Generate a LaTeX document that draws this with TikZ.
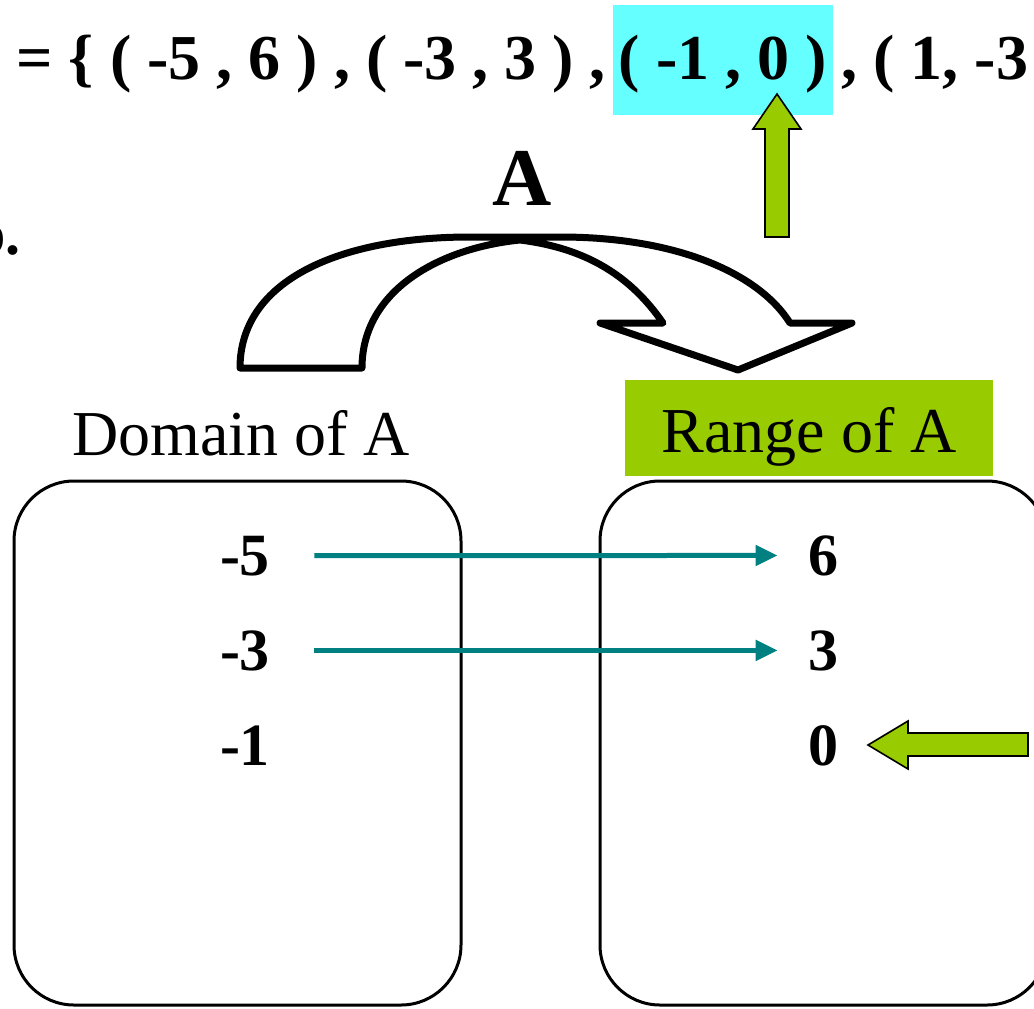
\documentclass[tikz,border=0pt]{standalone}
\usepackage{fontspec}
\setmainfont{Liberation Serif}
\usetikzlibrary{arrows.meta,positioning,calc}
\definecolor{mapTeal}{HTML}{008080}
\definecolor{mapGreen}{HTML}{99CC00}
\definecolor{mapCyan}{HTML}{66FFFF}
\tikzset{
  setbox/.style={draw, line width=1.5pt, rounded corners=30pt,
                 minimum width=223.5pt, minimum height=262pt},
  numlbl/.style={font=\fontsize{30}{36}\selectfont\bfseries, inner sep=0pt},
  setlbl/.style={font=\fontsize{32}{38}\selectfont, inner sep=0pt},
  pairtxt/.style={font=\fontsize{32}{38}\selectfont\bfseries, inner sep=0pt},
  maparr/.style={-{Triangle[length=11pt,width=10pt]}, line width=2.5pt, draw=mapTeal,
                 shorten <=22pt, shorten >=15pt},
  greenarr/.style={fill=mapGreen, draw=black, line width=0.8pt, line join=miter},
  bendarr/.style={draw=black, line width=3.5pt, line join=round, line cap=round},
}

\begin{document}
\begin{tikzpicture}[x=0.5pt, y=-0.5pt]
  \useasboundingbox (0,0) rectangle (1034,1008);
  \clip (0,0) rectangle (1034,1008);
  % the set of pairs
  \node[pairtxt, anchor=base west] (setL) at (16,79) {= \{ ( -5 , 6 ) , ( -3 , 3 ) ,};
  \node[pairtxt, base right=3pt of setL, fill=mapCyan, inner xsep=3pt,
        text height=37pt, text depth=18pt] (pairC) {( -1 , 0 )};
  \node[pairtxt, base right=4pt of pairC] (setR) {, ( 1, -3};
  \node[font=\fontsize{30}{36}\selectfont\bfseries, anchor=base east] (partLbl) at (28,254) {b.};
  \node[font=\fontsize{41}{48}\selectfont\bfseries, anchor=base] (mapName) at (522,205) {A};
  % bent arrow
  \draw[bendarr] (240,368) .. controls (240,280) and (340,237) .. (470,237) -- (560,237)
    .. controls (680,237) and (760,275) .. (790,323) -- (852,323) -- (738,370) -- (600,323)
    -- (663,323) .. controls (630,275) and (585,248) .. (520,240)
    .. controls (440,248) and (362,290) .. (362,368) -- cycle;
  % domain and range
  \node[setlbl, anchor=base] (domLbl) at (241,455) {Domain of A};
  \node[setlbl, fill=mapGreen, minimum width=184pt, minimum height=48pt,
        text height=24.5pt, text depth=0.5pt] (ranLbl) at (809,428) {Range of A};
  \node[setbox] (domBox) at (237.5,743) {};
  \node[setbox] (ranBox) at (823.5,743) {};
  \node[numlbl, anchor=base] (d5) at (245,575) {-5};
  \node[numlbl, anchor=base] (d3) at (245,670) {-3};
  \node[numlbl, anchor=base] (d1) at (245,765) {-1};
  \node[numlbl, anchor=base] (r6) at (823,575) {6};
  \node[numlbl, anchor=base] (r3) at (823,670) {3};
  \node[numlbl, anchor=base] (r0) at (823,765) {0};
  \draw[maparr] (d5) -- (r6);
  \draw[maparr] (d3) -- (r3);
  % green pointers
  \draw[greenarr] (765,237) -- (765,129) -- (753,129) -- (777,94) -- (801,129)
    -- (789,129) -- (789,237) -- cycle;
  \draw[greenarr] (1028,733) -- (908,733) -- (908,721) -- (868,745) -- (908,769)
    -- (908,756) -- (1028,756) -- cycle;
\end{tikzpicture}
\end{document}
